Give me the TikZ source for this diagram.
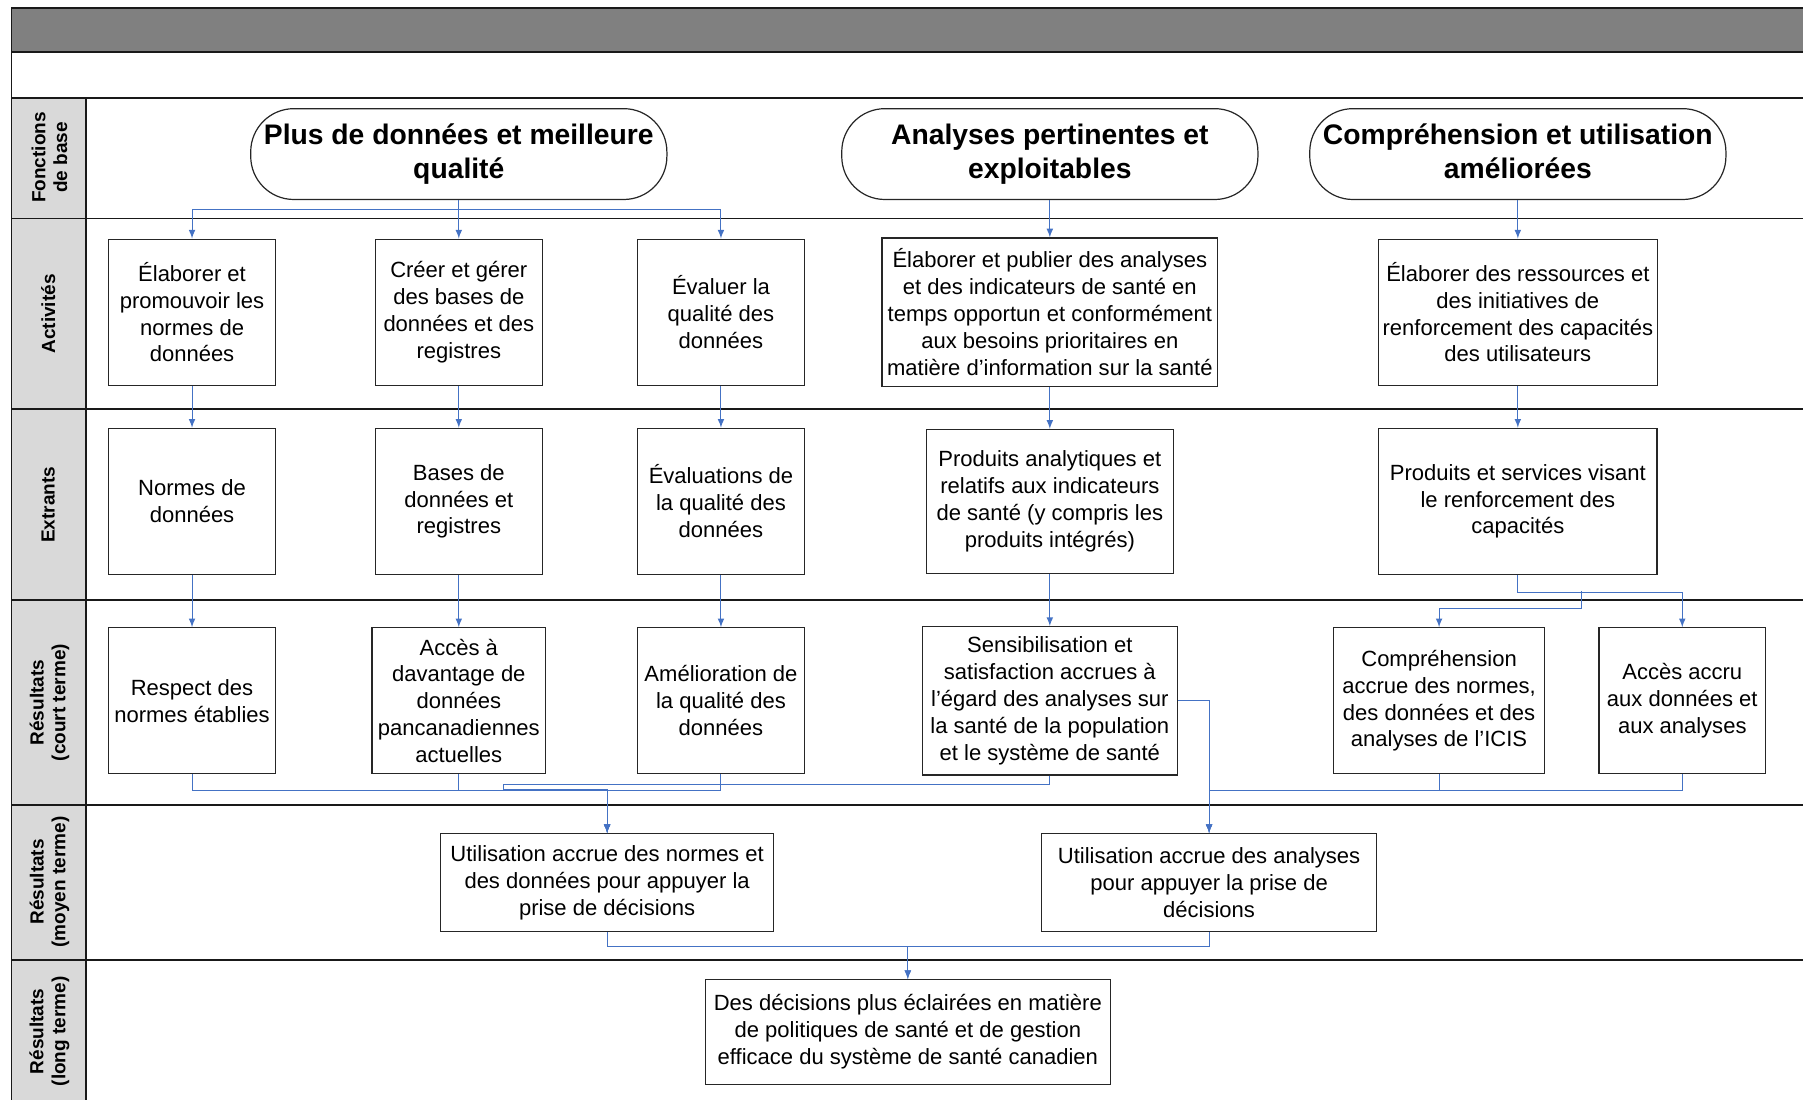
\documentclass[tikz,border=0pt]{standalone}
\usepackage{fontspec}
\setmainfont{Liberation Sans}
\usepackage{tikz}
\usetikzlibrary{arrows,shapes}
\definecolor{linkblue}{HTML}{4472C4}
\definecolor{bandgray}{HTML}{808080}
\definecolor{labelgray}{HTML}{D9D9D9}
\tikzstyle{box}=[draw=black!85,line width=0.6pt,fill=white,align=center,inner sep=2pt,font=\fontsize{10.9}{13.3}\selectfont,minimum width=2.9cm,minimum height=2.54cm]
\tikzstyle{fonction}=[draw=black!85,line width=0.6pt,rounded corners=0.75cm,align=center,inner sep=2pt,font=\fontsize{14}{17}\selectfont\bfseries,minimum width=7.24cm,minimum height=1.58cm]
\tikzstyle{rowlabel}=[rotate=90,align=center,inner sep=0pt,font=\fontsize{9.4}{10.8}\selectfont\bfseries]
\tikzstyle{frame}=[draw=black!90,line width=0.85pt]
\tikzstyle{arrow}=[draw=linkblue,line width=0.5pt,->,>=latex]
\newcommand{\toprule}{\rule{0pt}{11pt}}
\newcommand{\botrule}{\rule[-3.5pt]{0pt}{3.5pt}}

\begin{document}
\begin{tikzpicture}[x=0.02cm,y=-0.02cm]
    \useasboundingbox (0,0) rectangle (1568,956);
    \clip (0,0) rectangle (1568,956);
    \fill[bandgray] (10,7) rectangle (1600,45);
    \fill[labelgray] (10,85) rectangle (75,1000);
    \draw[frame] (1600,7) -- (10,7) -- (10,1000);
    \foreach \y in {45,85,190,356,522,700,835}
        \draw[frame] (10,\y) -- (1600,\y);
    \draw[frame] (75,85) -- (75,1000);
    \foreach \pos/\txt in {{(43,137)/{Fonctions\\de base}}, {(42,273)/{Activités}}, {(42,439)/{Extrants}},
        {(43,611)/{Résultats\\(court terme)}}, {(43,767)/{Résultats\\(moyen terme)}}, {(43,897)/{Résultats\\(long terme)}}}
        \node[rowlabel] at \pos {\txt};
    \foreach \pos/\name/\txt in {{(399,134)/A/{\toprule Plus de données et meilleure\\qualité\botrule}},
        {(913,134)/B/{\toprule Analyses pertinentes et\\exploitables\botrule}}, {(1320,134)/C/{\toprule Compréhension et utilisation\\améliorées\botrule}}}
        \node[fonction] (\name) at \pos {\txt};
    \foreach \pos/\name/\txt in {{(167,271.5)/a1/{Élaborer et\\promouvoir les\\normes de\\données}},
        {(399,271.5)/a2/{Créer et gérer\\des bases de\\données et des\\registres}},
        {(627,271.5)/a3/{Évaluer la\\qualité des\\données}},
        {(167,436)/e1/{Normes de\\données}}, {(399,436)/e2/{Bases de\\données et\\registres}},
        {(627,436)/e3/{Évaluations de\\la qualité des\\données}},
        {(167,609.5)/r1/{Respect des\\normes établies}}, {(627,609.5)/r3/{Amélioration de\\la qualité des\\données}},
        {(1463,609.5)/r6/{Accès accru\\aux données et\\aux analyses}}}
        \node[box] (\name) at \pos {\txt};
    \node[box,minimum width=5.84cm,minimum height=2.58cm] (a4) at (913,271.5) {Élaborer et publier des analyses\\et des indicateurs de santé en\\temps opportun et conformément\\aux besoins prioritaires en\\matière d’information sur la santé};
    \node[box,minimum width=4.84cm] (a5) at (1320,271.5) {Élaborer des ressources et\\des initiatives de\\renforcement des capacités\\des utilisateurs};
    \node[box,minimum width=4.3cm,minimum height=2.5cm] (e4) at (913,436) {Produits analytiques et\\relatifs aux indicateurs\\de santé (y compris les\\produits intégrés)};
    \node[box,minimum width=4.84cm] (e5) at (1320,436) {Produits et services visant\\le renforcement des\\capacités};
    \node[box,minimum width=3.02cm] (r2) at (399,609.5) {Accès à\\davantage de\\données\\pancanadiennes\\actuelles};
    \node[box,minimum width=4.44cm,minimum height=2.58cm] (r4) at (913,609.5) {Sensibilisation et\\satisfaction accrues à\\l’égard des analyses sur\\la santé de la population\\et le système de santé};
    \node[box,minimum width=3.66cm] (r5) at (1251.5,609.5) {Compréhension\\accrue des normes,\\des données et des\\analyses de l’ICIS};
    \node[box,minimum width=5.8cm,minimum height=1.7cm] (m1) at (528,767.5) {Utilisation accrue des normes et\\des données pour appuyer la\\prise de décisions};
    \node[box,minimum width=5.82cm,minimum height=1.7cm] (m2) at (1051.5,767.5) {Utilisation accrue des analyses\\pour appuyer la prise de\\décisions};
    \node[box,minimum width=7.04cm,minimum height=1.82cm] (l1) at (789.5,897.5) {Des décisions plus éclairées en matière\\de politiques de santé et de gestion\\efficace du système de santé canadien};
    \coordinate (e5split) at (1375,514);
    \coordinate (r4bend) at (438,687);
    \foreach \dest in {a1,a2,a3}
        \path[arrow] (A.south) -- ++(0,8) -| (\dest.north);
    \foreach \source/\dest in {B/a4,C/a5,a1/e1,a2/e2,a3/e3,a4/e4,a5/e5,e1/r1,e2/r2,e3/r3,e4/r4}
        \path[arrow] (\source.south) -- (\dest.north);
    \path[arrow] (e5.south) -- ++(0,15) -| (r6.north);
    \path[arrow] (e5split) -- ++(0,15) -| (r5.north);
    \foreach \source in {r1,r2,r3}
        \path[arrow] (\source.south) -- ++(0,14) -| (m1.north);
    \path[arrow] (r4.south) -- ++(0,8) -| (r4bend) -| (m1.north);
    \path[arrow] (r4.east) -| (m2.north);
    \foreach \source in {r5,r6}
        \path[arrow] (\source.south) -- ++(0,14) -| (m2.north);
    \foreach \source in {m1,m2}
        \path[arrow] (\source.south) -- ++(0,13) -| (l1.north);
\end{tikzpicture}
\end{document}
